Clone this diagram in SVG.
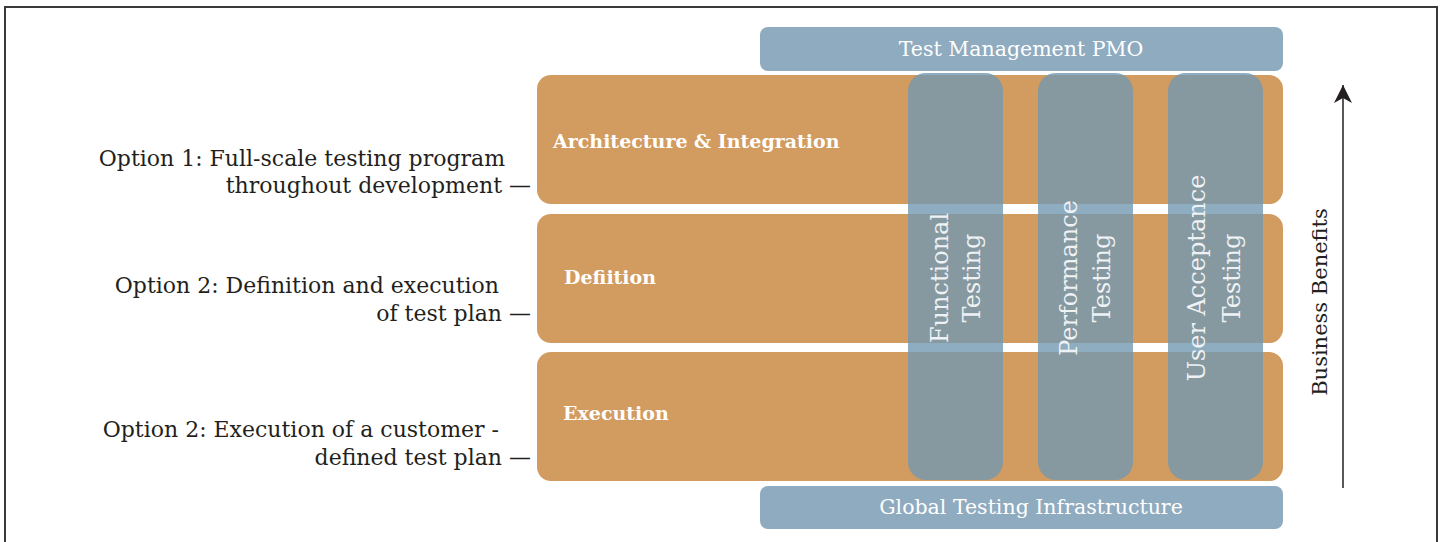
<svg xmlns="http://www.w3.org/2000/svg" width="1442" height="542" viewBox="0 0 1442 542">
<style>
.lbl{font-family:"DejaVu Serif","Liberation Serif",serif;font-size:22px;fill:#231f20;text-anchor:end}
.row{fill:#d29b60}
.rowt{font-family:"DejaVu Serif","Liberation Serif",serif;font-size:19px;font-weight:bold;fill:#ffffff}
.bar{fill:#8fabbf}
.bart{font-family:"DejaVu Serif","Liberation Serif",serif;font-size:20.5px;fill:#ffffff;text-anchor:middle}
.col{fill:#7398b0;fill-opacity:0.8}
.colt{font-family:"DejaVu Serif","Liberation Serif",serif;font-size:24px;fill:#eef2f5;text-anchor:middle}
</style>
<defs>
<marker id="ah" viewBox="0 0 20 20" refX="19" refY="10" markerWidth="20" markerHeight="20" markerUnits="userSpaceOnUse" orient="auto">
<path d="M19,10 L1,1 L6,10 L1,19 Z" fill="#231f20"/>
</marker>
</defs>
<rect x="5" y="7" width="1432" height="560" fill="#ffffff" stroke="#3a3a3a" stroke-width="2"/>

<g id="labels">
<text class="lbl" x="505" y="166">Option 1: Full-scale testing program</text>
<text class="lbl" x="531" y="193">throughout development —</text>
<text class="lbl" x="499" y="293">Option 2: Definition and execution</text>
<text class="lbl" x="531" y="321">of test plan —</text>
<text class="lbl" x="499" y="437">Option 2: Execution of a customer -</text>
<text class="lbl" x="531" y="465">defined test plan —</text>
</g>

<g id="pmo">
<rect class="bar" x="760" y="27" width="523" height="44" rx="8"/>
<text class="bart" x="1021" y="56">Test Management PMO</text>
</g>

<g id="row-arch">
<rect class="row" x="537" y="75" width="746" height="129" rx="14"/>
<text class="rowt" x="553" y="148">Architecture &amp; Integration</text>
</g>
<g id="row-def">
<rect class="row" x="537" y="214" width="746" height="129" rx="14"/>
<text class="rowt" x="564" y="284">Defiition</text>
</g>
<g id="row-exec">
<rect class="row" x="537" y="352" width="746" height="129" rx="14"/>
<text class="rowt" x="563" y="420">Execution</text>
</g>

<g id="infra">
<rect class="bar" x="760" y="486" width="523" height="43" rx="8"/>
<text class="bart" x="1031" y="514">Global Testing Infrastructure</text>
</g>

<g id="col-functional">
<rect class="col" x="908" y="73" width="95" height="407" rx="18"/>
<text class="colt" transform="translate(948,278) rotate(-90)">Functional</text>
<text class="colt" transform="translate(980,278) rotate(-90)">Testing</text>
</g>
<g id="col-performance">
<rect class="col" x="1038" y="73" width="95" height="407" rx="18"/>
<text class="colt" transform="translate(1077,278) rotate(-90)">Performance</text>
<text class="colt" transform="translate(1110,278) rotate(-90)">Testing</text>
</g>
<g id="col-uat">
<rect class="col" x="1168" y="73" width="95" height="407" rx="18"/>
<text class="colt" transform="translate(1205,278) rotate(-90)">User Acceptance</text>
<text class="colt" transform="translate(1240,278) rotate(-90)">Testing</text>
</g>

<g id="connectors">
<line x1="1343" y1="488" x2="1343" y2="85" stroke="#231f20" stroke-width="1.5" marker-end="url(#ah)"/>
</g>
<g id="benefits">
<text transform="translate(1327,302) rotate(-90)" style="font-family:'DejaVu Serif','Liberation Serif',serif;font-size:21px;fill:#231f20;text-anchor:middle">Business Benefits</text>
</g>
</svg>
